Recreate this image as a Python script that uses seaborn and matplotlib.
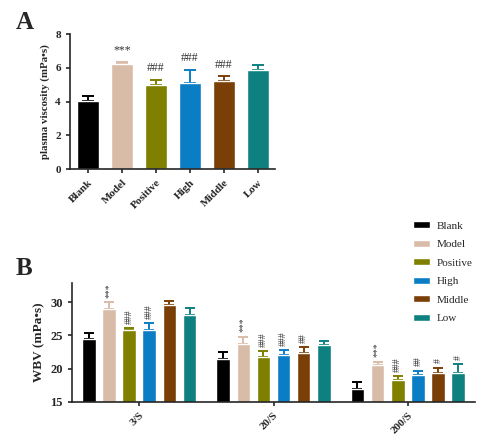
import numpy as np
import pandas as pd
import matplotlib
matplotlib.use("Agg")
import matplotlib.pyplot as plt
from matplotlib.container import BarContainer
import seaborn as sns

# ---- data ----
groups = ["Blank", "Model", "Positive", "High", "Middle", "Low"]
colors = ["#000000", "#D9BCA8", "#7F7F00", "#0B7DC4", "#7A3F06", "#0E8080"]

pv_mean = [4.04, 6.21, 5.01, 5.10, 5.22, 5.86]
pv_err = [0.30, 0.14, 0.30, 0.80, 0.28, 0.34]
pv_marks = ["", "***", "###", "###", "###", ""]

shear = ["3/S", "20/S", "200/S"]
wbv_3 = [24.45, 29.0, 25.86, 25.86, 29.65, 28.1]
wbv_3_err = [0.85, 1.1, 0.3, 0.95, 0.6, 1.0]
wbv_20 = [21.47, 23.74, 21.7, 22.05, 22.4, 23.6]
wbv_20_err = [1.1, 1.1, 0.9, 0.75, 0.8, 0.5]
wbv_200 = [16.9, 20.56, 18.3, 19.0, 19.4, 19.4]
wbv_200_err = [1.0, 0.5, 0.6, 0.7, 0.75, 1.3]
wbv_marks_3 = ["", "***", "###", "###", "", ""]
wbv_marks_20 = ["", "***", "###", "###", "##", ""]
wbv_marks_200 = ["", "***", "###", "##", "#", "#"]

sns.set_style("ticks")
plt.rcParams["font.family"] = ["Liberation Serif", "DejaVu Serif"]
plt.rcParams["axes.linewidth"] = 1.2
plt.rcParams["xtick.major.width"] = 1.2
plt.rcParams["ytick.major.width"] = 1.2
plt.rcParams["xtick.major.size"] = 3
plt.rcParams["ytick.major.size"] = 3

fig = plt.figure(figsize=(5.0, 4.38), dpi=100)
pal = dict(zip(groups, colors))

# ---- Panel A ----
axA = fig.add_axes([0.14, 0.614, 0.41, 0.308])
dfA = pd.DataFrame({"group": groups, "val": pv_mean})
sns.barplot(data=dfA, x="group", y="val", hue="group", palette=pal,
            order=groups, hue_order=groups, legend=False, width=0.65,
            errorbar=None, ax=axA, saturation=1)
for p in list(axA.patches):
    xc = p.get_x() + p.get_width() / 2
    i = int(round(xc))
    axA.errorbar(xc, pv_mean[i], yerr=[[0], [pv_err[i]]], color=colors[i],
                 capsize=4.3, elinewidth=1.4, capthick=1.4, fmt="none",
                 zorder=0.9)
    if pv_marks[i]:
        axA.annotate(pv_marks[i], (xc, pv_mean[i] + pv_err[i]),
                     xytext=(0, 4), textcoords="offset points",
                     ha="center", va="bottom", fontsize=8.5, color="#333333")
axA.set_ylim(0, 8)
axA.set_yticks([0, 2, 4, 6, 8])
axA.set_xlim(-0.53, 5.5)
axA.set_xlabel("")
axA.set_ylabel("plasma viscosity (mPa•s)", fontsize=7.8, fontweight="bold")
axA.tick_params(labelsize=8)
for lab in axA.get_xticklabels():
    lab.set_rotation(45)
    lab.set_ha("right")
    lab.set_rotation_mode("anchor")
    lab.set_fontweight("bold")
for lab in axA.get_yticklabels():
    lab.set_fontweight("bold")
sns.despine(ax=axA)

# ---- Panel B ----
axB = fig.add_axes([0.144, 0.083, 0.806, 0.272])
rows = []
for s, vals in zip(shear, [wbv_3, wbv_20, wbv_200]):
    for g, v in zip(groups, vals):
        rows.append({"shear": s, "group": g, "val": v})
dfB = pd.DataFrame(rows)
sns.barplot(data=dfB, x="shear", y="val", hue="group", palette=pal,
            order=shear, hue_order=groups, width=0.9, gap=0.33,
            errorbar=None, ax=axB, saturation=1)
errs = [wbv_3_err, wbv_20_err, wbv_200_err]
means = [wbv_3, wbv_20, wbv_200]
marks = [wbv_marks_3, wbv_marks_20, wbv_marks_200]
bar_conts = [c for c in axB.containers if isinstance(c, BarContainer)]
for k, cont in enumerate(bar_conts):
    for j, p in enumerate(cont.patches):
        xc = p.get_x() + p.get_width() / 2
        m = means[j][k]
        e = errs[j][k]
        axB.errorbar(xc, m, yerr=[[0], [e]], color=colors[k],
                     capsize=3.8, elinewidth=1.4, capthick=1.4, fmt="none",
                     zorder=0.9)
        if marks[j][k]:
            axB.annotate(marks[j][k], (xc, m + e), xytext=(0, 3),
                         textcoords="offset points", ha="center",
                         va="bottom", rotation=90, fontsize=7,
                         color="#333333")
axB.set_ylim(15, 33)
axB.set_yticks([15, 20, 25, 30])
axB.set_xlim(-0.5, 2.5)
axB.set_xlabel("")
axB.set_ylabel("WBV (mPa•s)", fontsize=9.5, fontweight="bold")
axB.tick_params(labelsize=9)
for lab in axB.get_xticklabels():
    lab.set_rotation(45)
    lab.set_ha("right")
    lab.set_rotation_mode("anchor")
    lab.set_fontweight("bold")
    lab.set_fontsize(8)
for lab in axB.get_yticklabels():
    lab.set_fontweight("bold")
sns.despine(ax=axB)

handles, labels = axB.get_legend_handles_labels()
if axB.get_legend() is not None:
    axB.get_legend().remove()
fig.legend(handles, labels, loc="upper left", bbox_to_anchor=(0.826, 0.495),
           frameon=False, fontsize=8, borderpad=0, borderaxespad=0,
           handlelength=1.5, handleheight=0.6, handletextpad=0.6,
           labelspacing=0.82)

fig.text(0.032, 0.948, "A", fontsize=18, fontweight="bold", va="center")
fig.text(0.032, 0.388, "B", fontsize=18, fontweight="bold", va="center")

fig.savefig("out.png", dpi=100)
